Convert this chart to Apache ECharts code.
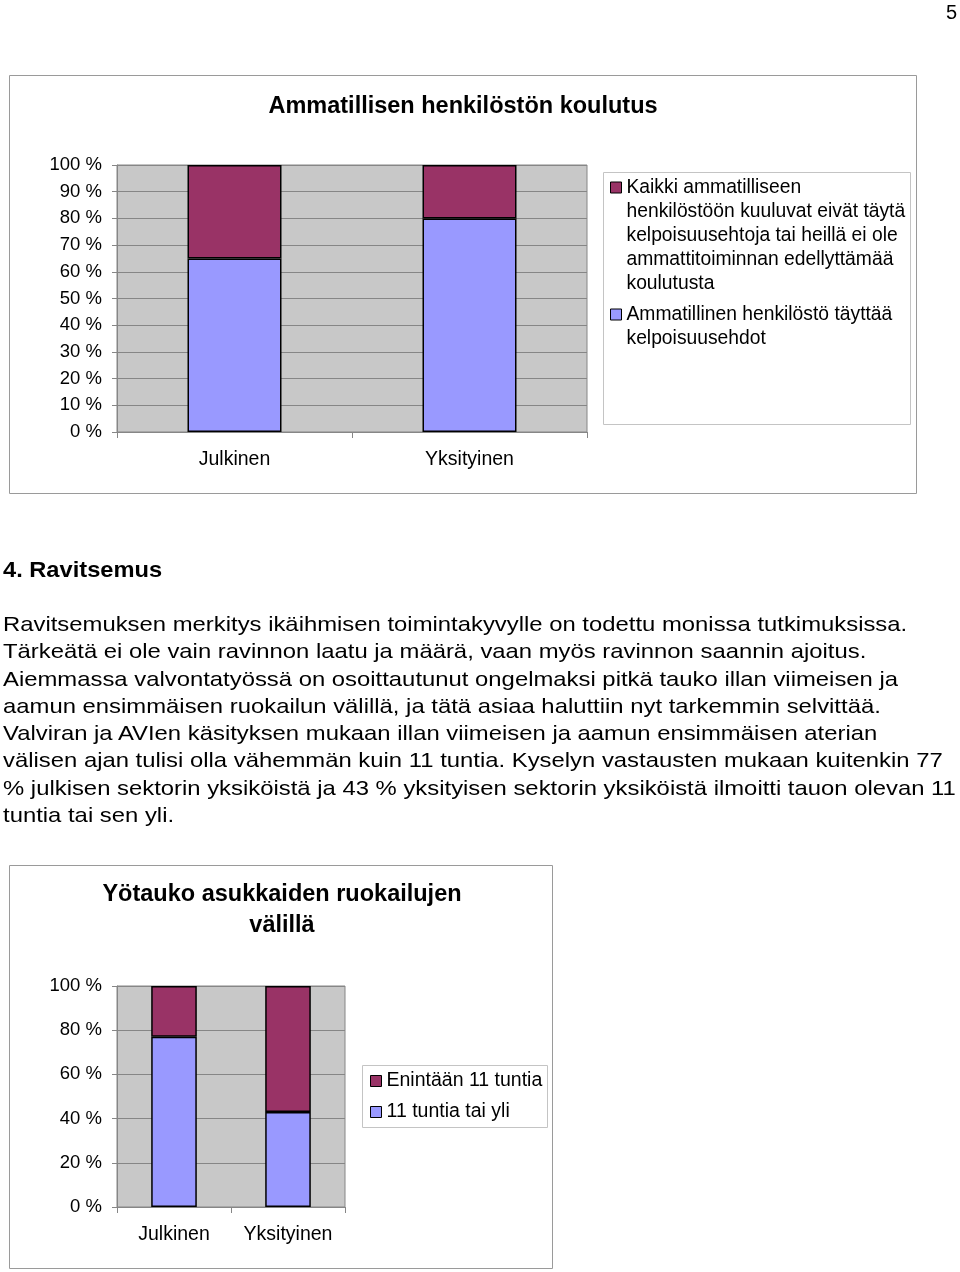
<!DOCTYPE html>
<html><head><meta charset="utf-8">
<script src="https://cdn.jsdelivr.net/npm/echarts@6/dist/echarts.min.js"></script>
<style>
html,body{margin:0;padding:0;background:#fff;width:960px;height:1272px;overflow:hidden;}
#chart{position:absolute;left:0;top:0;width:960px;height:1272px;}
.txt{position:absolute;font-family:"Liberation Sans",Arial,Helvetica,sans-serif;color:#000;white-space:nowrap;}
#para div{transform:scaleX(1.136);transform-origin:0 50%;}
</style></head><body>
<div id="chart"></div>
<div class="txt" id="pageno" style="right:3px;top:1px;font-size:20px;"></div>
<div class="txt" id="heading" style="left:3px;top:557px;font-size:22px;font-weight:bold;transform:scaleX(1.075);transform-origin:0 50%;"></div>
<div class="txt" id="para" style="left:3px;top:610px;font-size:21px;line-height:27.3px;"></div>
<script>
// ---- data ----
const categories = ['Julkinen', 'Yksityinen'];
const staffQualified = [65, 80];
const staffNotQualified = [35, 20];
const breakOver11 = [77, 43];
const breakUpTo11 = [23, 57];

const title1 = 'Ammatillisen henkilöstön koulutus';
const title2 = 'Yötauko asukkaiden ruokailujen\nvälillä';
const nameNotQualified = 'Kaikki ammatilliseen henkilöstöön kuuluvat eivät täytä kelpoisuusehtoja tai heillä ei ole ammattitoiminnan edellyttämää koulutusta';
const nameQualified = 'Ammatillinen henkilöstö täyttää kelpoisuusehdot';
const linesNotQualified = ['Kaikki ammatilliseen', 'henkilöstöön kuuluvat eivät täytä', 'kelpoisuusehtoja tai heillä ei ole', 'ammattitoiminnan edellyttämää', 'koulutusta'];
const linesQualified = ['Ammatillinen henkilöstö täyttää', 'kelpoisuusehdot'];
const nameUpTo11 = 'Enintään 11 tuntia';
const nameOver11 = '11 tuntia tai yli';

const pageNumber = '5';
const headingText = '4. Ravitsemus';
const paragraphLines = [
  'Ravitsemuksen merkitys ikäihmisen toimintakyvylle on todettu monissa tutkimuksissa.',
  'Tärkeätä ei ole vain ravinnon laatu ja määrä, vaan myös ravinnon saannin ajoitus.',
  'Aiemmassa valvontatyössä on osoittautunut ongelmaksi pitkä tauko illan viimeisen ja',
  'aamun ensimmäisen ruokailun välillä, ja tätä asiaa haluttiin nyt tarkemmin selvittää.',
  'Valviran ja AVIen käsityksen mukaan illan viimeisen ja aamun ensimmäisen aterian',
  'välisen ajan tulisi olla vähemmän kuin 11 tuntia. Kyselyn vastausten mukaan kuitenkin 77',
  '% julkisen sektorin yksiköistä ja 43 % yksityisen sektorin yksiköistä ilmoitti tauon olevan 11',
  'tuntia tai sen yli.'
];

// ---- page text ----
document.getElementById('pageno').textContent = pageNumber;
document.getElementById('heading').textContent = headingText;
const para = document.getElementById('para');
paragraphLines.forEach(function (l) { const d = document.createElement('div'); d.textContent = l; para.appendChild(d); });

// ---- chart ----
const FF = '"Liberation Sans", Arial, Helvetica, sans-serif';
const BLUE = '#9999ff', MAROON = '#993366', PLOT_BG = '#c8c8c8', GRID = '#868686';
const legendLines = {};
legendLines[nameNotQualified] = linesNotQualified;
legendLines[nameQualified] = linesQualified;

function iconPath(h) {
  return 'path://M0,0M0,6.5L11,6.5L11,17.5L0,17.5ZM11,' + h;
}
function xAxisCfg(gi) {
  return {
    gridIndex: gi, type: 'category', data: categories,
    axisLine: { show: true, lineStyle: { color: GRID, width: 1 } },
    axisTick: { show: true, length: 6, lineStyle: { color: GRID } },
    axisLabel: { interval: 0, hideOverlap: false, fontSize: 19.5, color: '#000', margin: 18, fontFamily: FF },
    splitLine: { show: false }
  };
}
function yAxisCfg(gi, interval) {
  return {
    gridIndex: gi, type: 'value', min: 0, max: 100, interval: interval,
    axisLine: { show: true, lineStyle: { color: GRID, width: 1 } },
    axisTick: { show: true, length: 5, lineStyle: { color: GRID } },
    axisLabel: { formatter: '{value} %', fontSize: 18.5, color: '#000', margin: 15, fontFamily: FF },
    splitLine: { show: true, lineStyle: { color: GRID, width: 1 } }
  };
}
function barSeries(name, data, gi, stack, color) {
  return {
    name: name, type: 'bar', stack: stack, xAxisIndex: gi, yAxisIndex: gi,
    data: data, barWidth: '40%',
    itemStyle: { color: color, borderColor: '#000', borderWidth: 1.5 },
    emphasis: { disabled: true }, animation: false
  };
}
const legendText = { fontSize: 19.3, lineHeight: 24, color: '#000', fontFamily: FF };

const option = {
  animation: false,
  title: [
    { text: title1, left: 463, top: 95, textAlign: 'center', padding: 0,
      textStyle: { fontSize: 23.5, fontWeight: 'bold', color: '#000', fontFamily: FF } },
    { text: title2, left: 282, top: 879, textAlign: 'center', padding: 0,
      textStyle: { fontSize: 23.5, fontWeight: 'bold', color: '#000', fontFamily: FF, lineHeight: 31 } }
  ],
  grid: [
    { left: 117, top: 165, width: 470, height: 267, show: true, backgroundColor: PLOT_BG, borderColor: GRID, borderWidth: 1 },
    { left: 117, top: 986, width: 228, height: 221, show: true, backgroundColor: PLOT_BG, borderColor: GRID, borderWidth: 1 }
  ],
  xAxis: [xAxisCfg(0), xAxisCfg(1)],
  yAxis: [yAxisCfg(0, 10), yAxisCfg(1, 20)],
  legend: [
    { data: [{ name: nameNotQualified, icon: iconPath(120) }], orient: 'vertical', left: 610, top: 175, padding: 0,
      itemWidth: 11, itemHeight: 120, selectedMode: false,
      itemStyle: { borderColor: '#000', borderWidth: 1 },
      formatter: function (n) { return legendLines[n].join('\n'); }, textStyle: legendText },
    { data: [{ name: nameQualified, icon: iconPath(48) }], orient: 'vertical', left: 610, top: 302, padding: 0,
      itemWidth: 11, itemHeight: 48, selectedMode: false,
      itemStyle: { borderColor: '#000', borderWidth: 1 },
      formatter: function (n) { return legendLines[n].join('\n'); }, textStyle: legendText },
    { data: [nameUpTo11, nameOver11], orient: 'vertical', left: 370, top: 1071, padding: 0,
      itemWidth: 11, itemHeight: 11, itemGap: 11, icon: 'rect', selectedMode: false,
      itemStyle: { borderColor: '#000', borderWidth: 1 },
      textStyle: { fontSize: 19.5, lineHeight: 20, color: '#000', fontFamily: FF } }
  ],
  series: [
    barSeries(nameQualified, staffQualified, 0, 's1', BLUE),
    barSeries(nameNotQualified, staffNotQualified, 0, 's1', MAROON),
    barSeries(nameOver11, breakOver11, 1, 's2', BLUE),
    barSeries(nameUpTo11, breakUpTo11, 1, 's2', MAROON)
  ],
  graphic: [
    { type: 'rect', z: -10, silent: true, shape: { x: 9.5, y: 75.5, width: 907, height: 418 }, style: { fill: 'none', stroke: '#9a9a9a', lineWidth: 1 } },
    { type: 'rect', z: -10, silent: true, shape: { x: 603.5, y: 172.5, width: 307, height: 252 }, style: { fill: 'none', stroke: '#c4c4c4', lineWidth: 1 } },
    { type: 'rect', z: -10, silent: true, shape: { x: 9.5, y: 865.5, width: 543, height: 403 }, style: { fill: 'none', stroke: '#9a9a9a', lineWidth: 1 } },
    { type: 'rect', z: -10, silent: true, shape: { x: 362.5, y: 1065.5, width: 185, height: 62 }, style: { fill: 'none', stroke: '#c4c4c4', lineWidth: 1 } }
  ]
};
const chart = echarts.init(document.getElementById('chart'));
chart.setOption(option);
</script>
</body></html>
